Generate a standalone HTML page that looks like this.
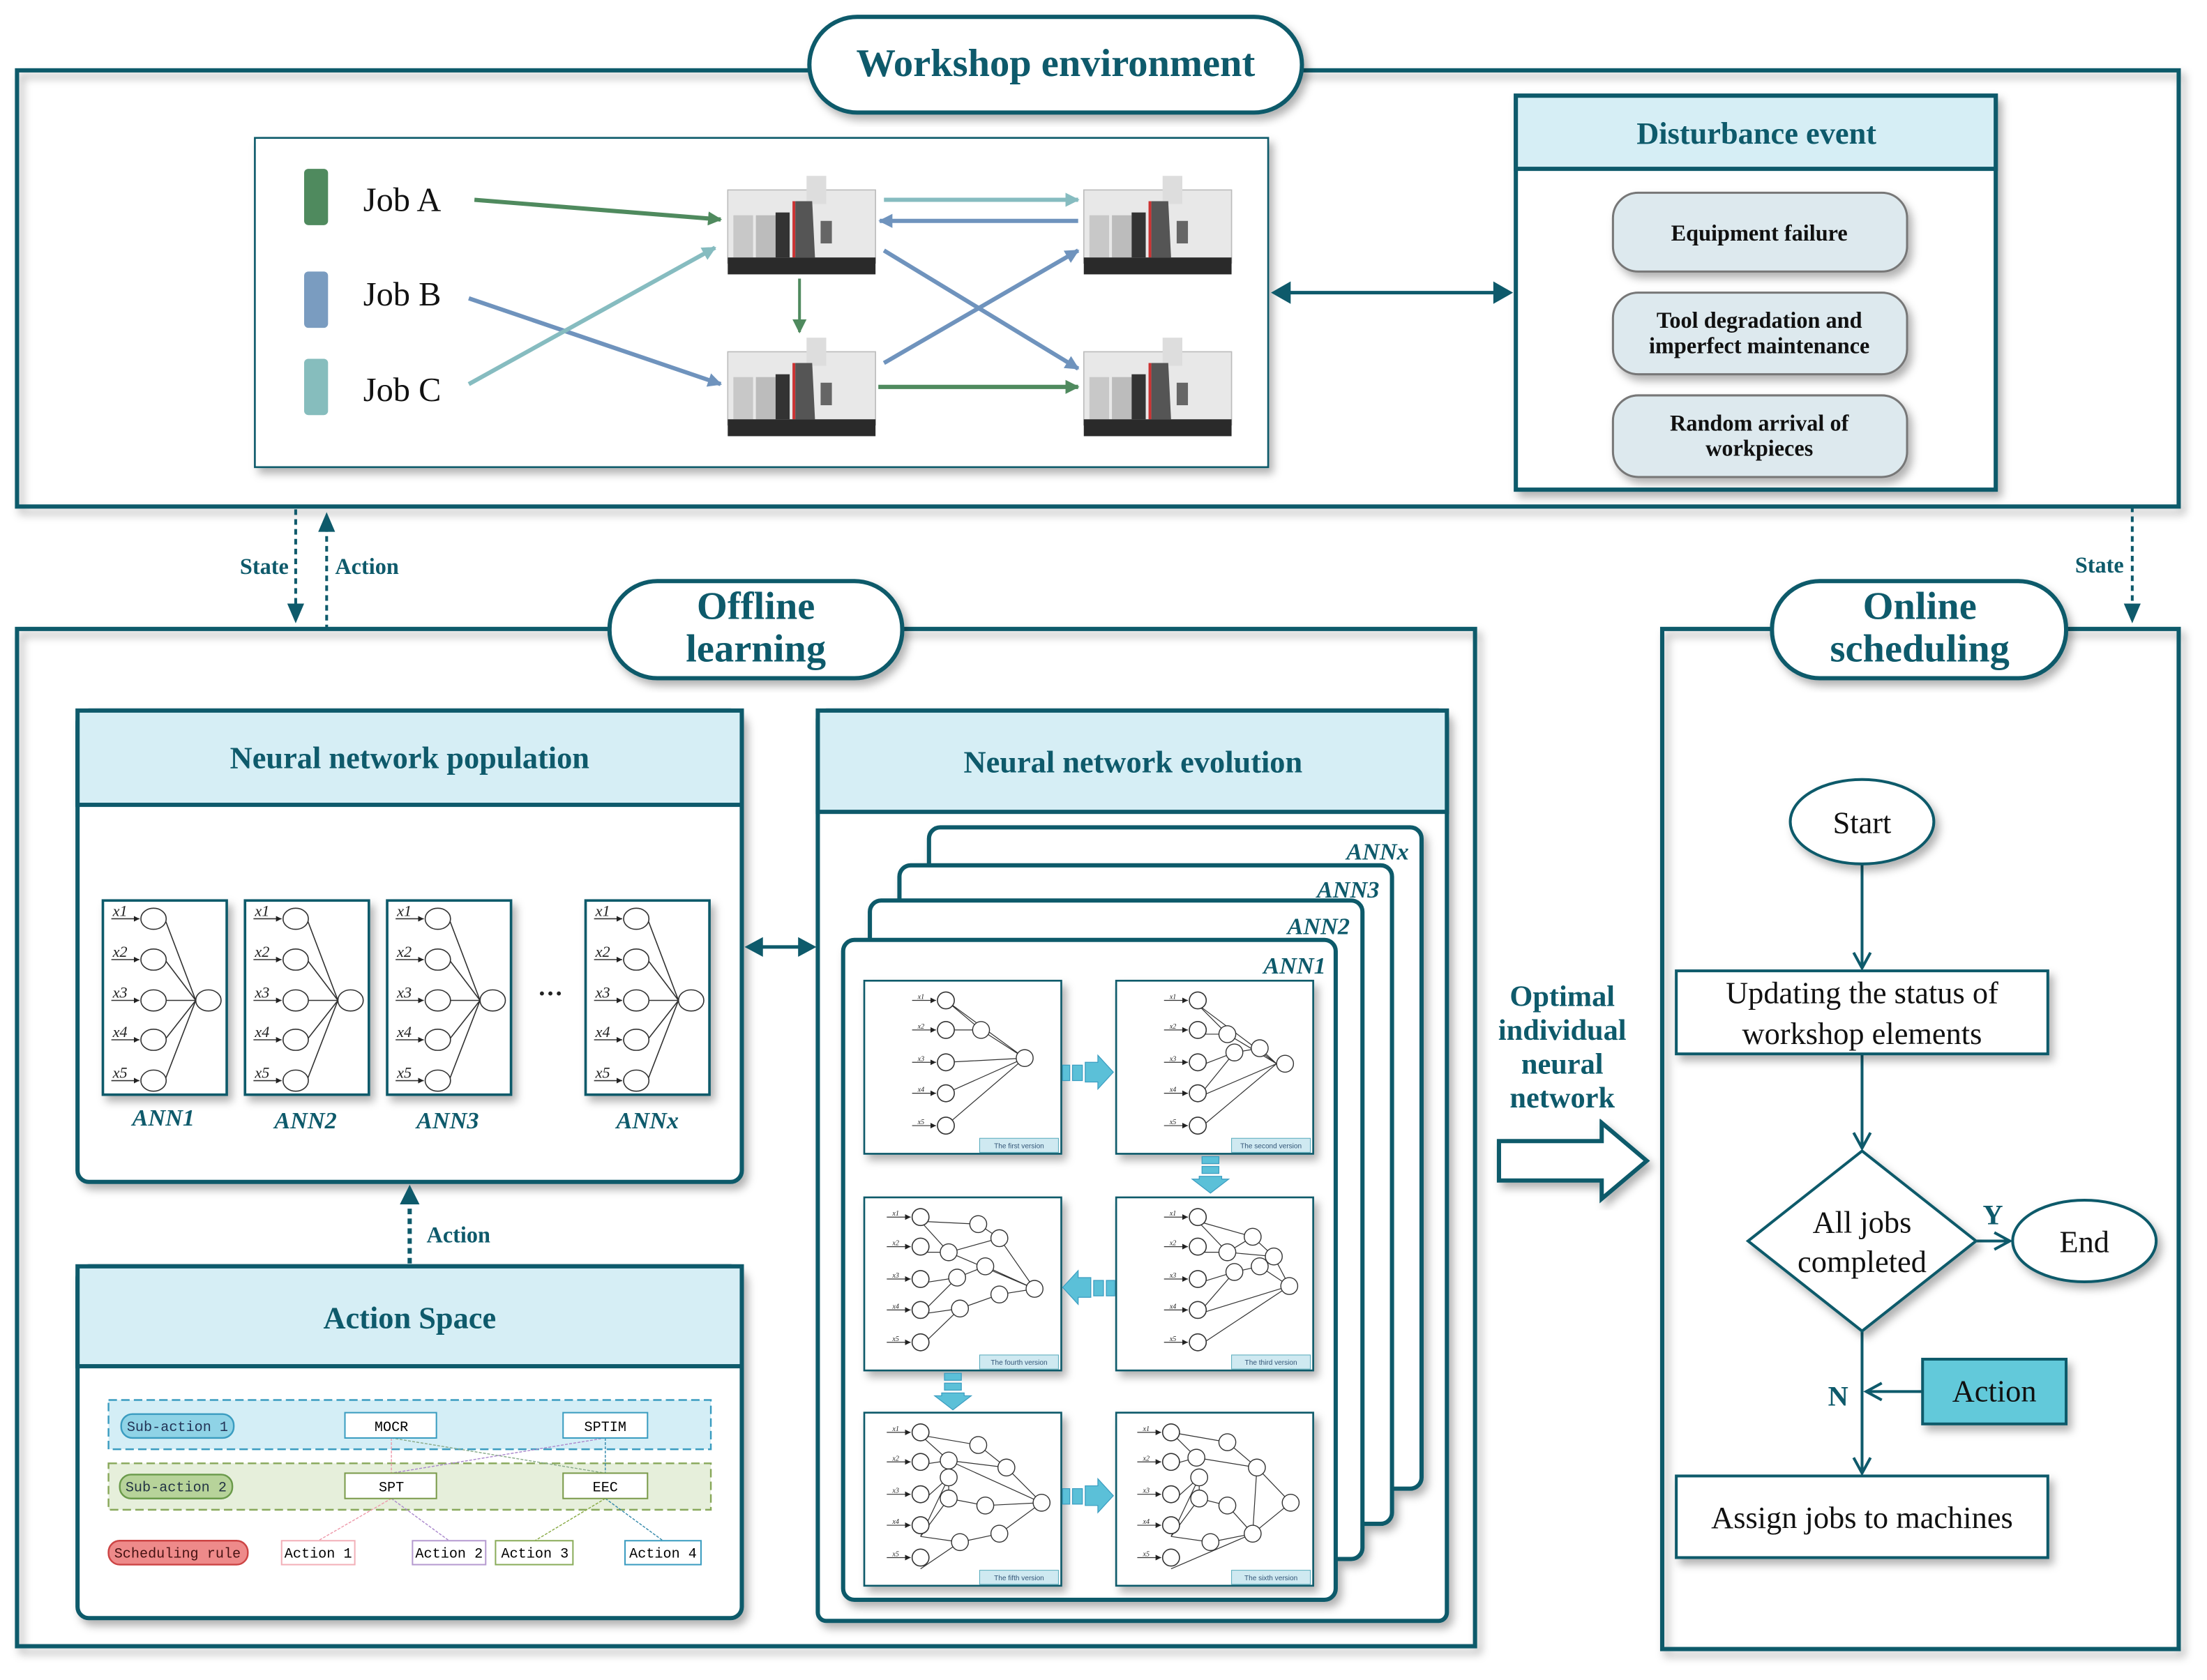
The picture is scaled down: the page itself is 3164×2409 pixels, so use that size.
<!DOCTYPE html>
<html><head><meta charset="utf-8"><style>
html,body{margin:0;padding:0;background:#fff;}
svg{display:block;font-family:"Liberation Serif","Times New Roman",Times,serif;}
text{font-family:"Liberation Serif","Times New Roman",Times,serif;}
text.mono{font-family:"Liberation Mono","Courier New",monospace;}
text.sans{font-family:"Liberation Sans",Arial,sans-serif;}
</style></head><body>
<svg width="3164" height="2409" viewBox="0 0 1568 1194" xmlns="http://www.w3.org/2000/svg">
<defs>
<filter id="sh" x="-5%" y="-5%" width="115%" height="120%"><feDropShadow dx="3" dy="4" stdDeviation="3" flood-color="#000" flood-opacity="0.3"/></filter>
<marker id="ahO" markerWidth="14" markerHeight="14" refX="12" refY="7" orient="auto" markerUnits="userSpaceOnUse"><path d="M1,1 L12,7 L1,13" fill="none" stroke="#0e5a6b" stroke-width="2"/></marker>
<marker id="aG" markerWidth="10" markerHeight="10" refX="9" refY="5" orient="auto" markerUnits="userSpaceOnUse"><path d="M0,0 L10,5 L0,10 z" fill="#4f8a5e"/></marker>
<marker id="aB" markerWidth="10" markerHeight="10" refX="9" refY="5" orient="auto" markerUnits="userSpaceOnUse"><path d="M0,0 L10,5 L0,10 z" fill="#6f93bd"/></marker>
<marker id="aT" markerWidth="10" markerHeight="10" refX="9" refY="5" orient="auto" markerUnits="userSpaceOnUse"><path d="M0,0 L10,5 L0,10 z" fill="#86bcc0"/></marker>
<marker id="sm" markerWidth="4" markerHeight="4" refX="4" refY="2" orient="auto" markerUnits="userSpaceOnUse"><path d="M0,0 L4,2 L0,4 z" fill="#222"/></marker>
<g id="mach">
 <rect x="0" y="10" width="105" height="52" fill="#e8e8e8" stroke="#bbb" stroke-width="0.8"/>
 <rect x="56" y="0" width="14" height="20" fill="#ddd"/>
 <rect x="4" y="28" width="14" height="30" fill="#c8c8c8"/>
 <rect x="20" y="28" width="14" height="30" fill="#bcbcbc"/>
 <rect x="34" y="26" width="10" height="32" fill="#333"/>
 <rect x="46" y="18" width="2" height="40" fill="#c33"/>
 <path d="M48,18 L60,18 L62,58 L48,58 z" fill="#555"/>
 <rect x="66" y="32" width="8" height="16" fill="#666"/>
 <rect x="0" y="58" width="105" height="12" fill="#2a2a2a"/>
</g>
<g id="ann" stroke="#333" stroke-width="0.8" fill="none">
 <rect x="0" y="0" width="88" height="138" fill="#fff" stroke="#0e5a6b" stroke-width="1.8"/>
 <g><line x1="6" y1="13" x2="26" y2="13" marker-end="url(#sm)"/><line x1="6" y1="42" x2="26" y2="42" marker-end="url(#sm)"/><line x1="6" y1="71" x2="26" y2="71" marker-end="url(#sm)"/><line x1="6" y1="99" x2="26" y2="99" marker-end="url(#sm)"/><line x1="6" y1="128" x2="26" y2="128" marker-end="url(#sm)"/></g>
 <line x1="44" y1="13" x2="66" y2="71"/><line x1="44" y1="42" x2="66" y2="71"/><line x1="45" y1="71" x2="66" y2="71"/><line x1="44" y1="99" x2="66" y2="71"/><line x1="44" y1="128" x2="66" y2="71"/>
 <g fill="#fff"><ellipse cx="36" cy="13" rx="9" ry="7.5"/><ellipse cx="36" cy="42" rx="9" ry="7.5"/><ellipse cx="36" cy="71" rx="9" ry="7.5"/><ellipse cx="36" cy="99" rx="9" ry="7.5"/><ellipse cx="36" cy="128" rx="9" ry="7.5"/><ellipse cx="75" cy="71" rx="9" ry="7.5"/></g>
</g>
<g id="pan">
 <rect x="0" y="0" width="140" height="123" fill="#fff" stroke="#0e5a6b" stroke-width="1.3" filter="url(#sh)"/>
 <rect x="82" y="112" width="56" height="10" fill="#cfe9f1" stroke="#5ab" stroke-width="0.5"/>
</g>
<g id="in5" fill="#fff" stroke="#333" stroke-width="0.8">
 <g stroke-width="0.6"><line x1="34" y1="14" x2="51" y2="14" marker-end="url(#sm)"/><line x1="34" y1="35" x2="51" y2="35" marker-end="url(#sm)"/><line x1="34" y1="58" x2="51" y2="58" marker-end="url(#sm)"/><line x1="34" y1="80" x2="51" y2="80" marker-end="url(#sm)"/><line x1="34" y1="103" x2="51" y2="103" marker-end="url(#sm)"/></g>
 <circle cx="58" cy="14" r="6"/><circle cx="58" cy="35" r="6"/><circle cx="58" cy="58" r="6"/><circle cx="58" cy="80" r="6"/><circle cx="58" cy="103" r="6"/></g>
</defs>

<rect x="12" y="50" width="1536" height="310" fill="none" stroke="#0e5a6b" stroke-width="3" filter="url(#sh)"/>
<rect x="575" y="12" width="350" height="68" rx="34" fill="#fff" stroke="#0e5a6b" stroke-width="3" filter="url(#sh)"/>
<text x="750" y="54" text-anchor="middle" font-size="28" font-weight="bold" fill="#0e5a6b">Workshop environment</text>

<rect x="181" y="98" width="720" height="234" fill="#fff" stroke="#0e5a6b" stroke-width="1.3" filter="url(#sh)"/>
<rect x="216" y="120" width="17" height="40" rx="3" fill="#4f8a5e"/>
<rect x="216" y="193" width="17" height="40" rx="3" fill="#7a9cc0"/>
<rect x="216" y="255" width="17" height="40" rx="3" fill="#86bdbd"/>
<text x="258" y="150" font-size="24" fill="#111">Job A</text>
<text x="258" y="217" font-size="24" fill="#111">Job B</text>
<text x="258" y="285" font-size="24" fill="#111">Job C</text>
<use href="#mach" x="517" y="125"/>
<use href="#mach" x="770" y="125"/>
<use href="#mach" x="517" y="240"/>
<use href="#mach" x="770" y="240"/>
<g stroke-width="3" fill="none">
<line x1="337" y1="142" x2="512" y2="156" stroke="#4f8a5e" marker-end="url(#aG)"/>
<line x1="333" y1="212" x2="512" y2="273" stroke="#6f93bd" marker-end="url(#aB)"/>
<line x1="333" y1="273" x2="508" y2="176" stroke="#86bcc0" marker-end="url(#aT)"/>
<line x1="628" y1="142" x2="766" y2="142" stroke="#86bcc0" marker-end="url(#aT)"/>
<line x1="766" y1="157" x2="625" y2="157" stroke="#6f93bd" marker-end="url(#aB)"/>
<line x1="568" y1="198" x2="568" y2="236" stroke="#4f8a5e" stroke-width="2" marker-end="url(#aG)"/>
<line x1="628" y1="178" x2="766" y2="262" stroke="#6f93bd" marker-end="url(#aB)"/>
<line x1="628" y1="258" x2="766" y2="178" stroke="#6f93bd" marker-end="url(#aB)"/>
<line x1="624" y1="275" x2="766" y2="275" stroke="#4f8a5e" marker-end="url(#aG)"/>
</g>
<line x1="915" y1="208" x2="1063" y2="208" stroke="#0e5a6b" stroke-width="2.5"/>
<path d="M903,208 L917,200 L917,216 z M1075,208 L1061,200 L1061,216 z" fill="#0e5a6b"/>

<rect x="1077" y="68" width="341" height="280" fill="#fff" stroke="#0e5a6b" stroke-width="3" filter="url(#sh)"/>
<rect x="1077" y="68" width="341" height="52" fill="#d6eef5" stroke="#0e5a6b" stroke-width="3"/>
<text x="1248" y="102" text-anchor="middle" font-size="22" font-weight="bold" fill="#0e5a6b">Disturbance event</text>
<g fill="#dde9ee" stroke="#777" stroke-width="1.5" filter="url(#sh)">
<rect x="1146" y="137" width="209" height="56" rx="18"/>
<rect x="1146" y="208" width="209" height="58" rx="18"/>
<rect x="1146" y="281" width="209" height="58" rx="18"/>
</g>
<g font-size="16" font-weight="bold" fill="#111" text-anchor="middle">
<text x="1250" y="171">Equipment failure</text>
<text x="1250" y="233">Tool degradation and</text>
<text x="1250" y="251">imperfect maintenance</text>
<text x="1250" y="306">Random arrival of</text>
<text x="1250" y="324">workpieces</text>
</g>

<g stroke="#0e5a6b" stroke-width="2" stroke-dasharray="4,3" fill="none">
<line x1="210" y1="362" x2="210" y2="438"/>
<line x1="232" y1="448" x2="232" y2="372"/>
<line x1="1515" y1="360" x2="1515" y2="438"/>
</g>
<path d="M210,443 L204,429 L216,429 z M232,364 L226,378 L238,378 z M1515,443 L1509,429 L1521,429 z" fill="#0e5a6b"/>
<g font-size="16" font-weight="bold" fill="#0e5a6b">
<text x="205" y="408" text-anchor="end">State</text>
<text x="238" y="408">Action</text>
<text x="1509" y="407" text-anchor="end">State</text>
</g>

<rect x="12" y="447" width="1036" height="723" fill="none" stroke="#0e5a6b" stroke-width="3" filter="url(#sh)"/>
<rect x="433" y="413" width="208" height="69" rx="34" fill="#fff" stroke="#0e5a6b" stroke-width="3" filter="url(#sh)"/>
<text x="537" y="440" text-anchor="middle" font-size="28" font-weight="bold" fill="#0e5a6b">Offline</text>
<text x="537" y="470" text-anchor="middle" font-size="28" font-weight="bold" fill="#0e5a6b">learning</text>

<rect x="1181" y="447" width="367" height="725" fill="none" stroke="#0e5a6b" stroke-width="3" filter="url(#sh)"/>
<rect x="1259" y="413" width="209" height="69" rx="34" fill="#fff" stroke="#0e5a6b" stroke-width="3" filter="url(#sh)"/>
<text x="1364" y="440" text-anchor="middle" font-size="28" font-weight="bold" fill="#0e5a6b">Online</text>
<text x="1364" y="470" text-anchor="middle" font-size="28" font-weight="bold" fill="#0e5a6b">scheduling</text>

<rect x="55" y="505" width="472" height="335" rx="8" fill="#fff" stroke="#0e5a6b" stroke-width="3" filter="url(#sh)"/>
<rect x="55" y="505" width="472" height="67" fill="#d6eef5" stroke="#0e5a6b" stroke-width="3"/>
<text x="291" y="546" text-anchor="middle" font-size="22" font-weight="bold" fill="#0e5a6b">Neural network population</text>
<g filter="url(#sh)"><use href="#ann" x="73" y="640"/><use href="#ann" x="174" y="640"/><use href="#ann" x="275" y="640"/><use href="#ann" x="416" y="640"/></g>
<g font-size="11" font-style="italic" fill="#222">
<text x="80" y="651">x1</text><text x="80" y="680">x2</text><text x="80" y="709">x3</text><text x="80" y="737">x4</text><text x="80" y="766">x5</text>
<text x="181" y="651">x1</text><text x="181" y="680">x2</text><text x="181" y="709">x3</text><text x="181" y="737">x4</text><text x="181" y="766">x5</text>
<text x="282" y="651">x1</text><text x="282" y="680">x2</text><text x="282" y="709">x3</text><text x="282" y="737">x4</text><text x="282" y="766">x5</text>
<text x="423" y="651">x1</text><text x="423" y="680">x2</text><text x="423" y="709">x3</text><text x="423" y="737">x4</text><text x="423" y="766">x5</text>
</g>
<text x="391" y="712" text-anchor="middle" font-size="18" font-weight="bold" fill="#222">···</text>
<g font-size="17" font-weight="bold" font-style="italic" fill="#0e5a6b" text-anchor="middle">
<text x="116" y="800">ANN1</text><text x="217" y="802">ANN2</text><text x="318" y="802">ANN3</text><text x="460" y="802">ANNx</text>
</g>
<line x1="540" y1="673" x2="568" y2="673" stroke="#0e5a6b" stroke-width="2.5"/>
<path d="M529,673 L542,666 L542,680 z M580,673 L567,666 L567,680 z" fill="#0e5a6b"/>

<line x1="291" y1="898" x2="291" y2="855" stroke="#0e5a6b" stroke-width="3" stroke-dasharray="4,3"/>
<path d="M291,842 L284,856 L298,856 z" fill="#0e5a6b"/>
<text x="303" y="883" font-size="16" font-weight="bold" fill="#0e5a6b">Action</text>

<rect x="55" y="900" width="472" height="250" rx="8" fill="#fff" stroke="#0e5a6b" stroke-width="3" filter="url(#sh)"/>
<rect x="55" y="900" width="472" height="71" fill="#d6eef5" stroke="#0e5a6b" stroke-width="3"/>
<text x="291" y="944" text-anchor="middle" font-size="22" font-weight="bold" fill="#0e5a6b">Action Space</text>
<rect x="77" y="995" width="428" height="35" fill="#d4eef6" stroke="#3a9cc0" stroke-width="1.2" stroke-dasharray="6,3"/>
<rect x="77" y="1040" width="428" height="33" fill="#e6efdb" stroke="#88a85a" stroke-width="1.2" stroke-dasharray="6,3"/>
<g stroke-width="0.7" stroke-dasharray="2,1" fill="none">
<line x1="278" y1="1022" x2="278" y2="1047" stroke="#e9a"/>
<line x1="278" y1="1022" x2="430" y2="1047" stroke="#8a8"/>
<line x1="430" y1="1022" x2="278" y2="1047" stroke="#a8c"/>
<line x1="430" y1="1022" x2="430" y2="1047" stroke="#38a"/>
<line x1="278" y1="1065" x2="226" y2="1095" stroke="#e9a"/>
<line x1="278" y1="1065" x2="319" y2="1095" stroke="#a8c"/>
<line x1="430" y1="1065" x2="380" y2="1095" stroke="#8a4"/>
<line x1="430" y1="1065" x2="471" y2="1095" stroke="#38a"/>
</g>
<g font-size="10" text-anchor="middle">
<rect x="86" y="1005" width="80" height="17" rx="8" fill="#8fd3e6" stroke="#3a9cc0" stroke-width="1.2"/><text class="mono" x="126" y="1017" fill="#235">Sub-action 1</text>
<rect x="85" y="1048" width="80" height="17" rx="8" fill="#b7d39a" stroke="#6a9a4a" stroke-width="1.2"/><text class="mono" x="125" y="1060" fill="#234">Sub-action 2</text>
<rect x="77" y="1095" width="99" height="17" rx="8" fill="#ee8a8a" stroke="#c44" stroke-width="1.2"/><text class="mono" x="126" y="1107" fill="#411">Scheduling rule</text>
<rect x="245" y="1004" width="65" height="18" fill="#fff" stroke="#3a9cc0"/><text class="mono" x="278" y="1017">MOCR</text>
<rect x="400" y="1004" width="60" height="18" fill="#fff" stroke="#3a9cc0"/><text class="mono" x="430" y="1017">SPTIM</text>
<rect x="245" y="1047" width="65" height="18" fill="#fff" stroke="#7a9a4a"/><text class="mono" x="278" y="1060">SPT</text>
<rect x="400" y="1047" width="60" height="18" fill="#fff" stroke="#7a9a4a"/><text class="mono" x="430" y="1060">EEC</text>
<rect x="200" y="1095" width="52" height="17" fill="#fff" stroke="#f2b0b8"/><text class="mono" x="226" y="1107">Action 1</text>
<rect x="293" y="1095" width="52" height="17" fill="#fff" stroke="#b59ad0"/><text class="mono" x="319" y="1107">Action 2</text>
<rect x="352" y="1095" width="55" height="17" fill="#fff" stroke="#8aac5a"/><text class="mono" x="380" y="1107">Action 3</text>
<rect x="444" y="1095" width="54" height="17" fill="#fff" stroke="#3a9cc0"/><text class="mono" x="471" y="1107">Action 4</text>
</g>

<rect x="581" y="505" width="447" height="647" rx="6" fill="#fff" stroke="#0e5a6b" stroke-width="3" filter="url(#sh)"/>
<rect x="581" y="505" width="447" height="72" fill="#d6eef5" stroke="#0e5a6b" stroke-width="3"/>
<text x="805" y="549" text-anchor="middle" font-size="22" font-weight="bold" fill="#0e5a6b">Neural network evolution</text>
<g fill="#fff" stroke="#0e5a6b" stroke-width="3" filter="url(#sh)">
<rect x="660" y="588" width="350" height="470" rx="8"/>
<rect x="639" y="615" width="350" height="468" rx="8"/>
<rect x="618" y="640" width="350" height="468" rx="8"/>
<rect x="599" y="668" width="350" height="469" rx="8"/>
</g>
<g font-size="17" font-weight="bold" font-style="italic" fill="#0e5a6b" text-anchor="end">
<text x="1001" y="611">ANNx</text><text x="980" y="638">ANN3</text><text x="959" y="664">ANN2</text><text x="942" y="692">ANN1</text>
</g>
<g>
<use href="#pan" x="614" y="697"/><use href="#pan" x="793" y="697"/>
<use href="#pan" x="614" y="851"/><use href="#pan" x="793" y="851"/>
<use href="#pan" x="614" y="1004"/><use href="#pan" x="793" y="1004"/>
</g>
<g stroke="#333" stroke-width="0.6" fill="none">
 <path d="M672,711 L728,752 M672,711 L697,732 M672,732 L697,732 M697,732 L728,752 M672,755 L728,752 M672,777 L728,752 M672,800 L728,752"/>
 <path d="M851,714 L907,756 M851,714 L872,735 M851,735 L872,735 M872,735 L907,756 M851,758 L877,748 M877,748 L895,745 M895,745 L907,756 M851,780 L877,748 M851,780 L907,756 M851,803 L907,756"/>
 <path d="M851,868 L890,879 M890,879 L905,893 M851,868 L872,890 M851,890 L872,890 M872,890 L905,893 M872,890 L890,879 M905,893 L916,914 M851,912 L877,904 M877,904 L895,900 M895,900 L916,914 M851,934 L877,904 M851,934 L916,914 M851,957 L916,914"/>
 <path d="M654,868 L695,870 M654,868 L674,890 M654,890 L674,890 M674,890 L710,880 M695,870 L710,880 M710,880 L735,916 M654,912 L680,908 M680,908 L700,900 M700,900 L735,916 M654,934 L680,908 M654,934 L682,930 M682,930 L710,920 M710,920 L735,916 M654,957 L682,930 M674,890 L735,916"/>
 <path d="M654,1020 L695,1027 M654,1020 L674,1038 M654,1041 L674,1038 M674,1038 L715,1043 M695,1027 L715,1043 M715,1043 L740,1068 M654,1068 L674,1050 M674,1050 L674,1065 M654,1092 L674,1050 M654,1092 L674,1065 M674,1065 L700,1070 M700,1070 L740,1068 M654,1092 L682,1096 M682,1096 L710,1090 M710,1090 L740,1068 M654,1115 L682,1096 M674,1038 L740,1068"/>
 <path d="M832,1018 L872,1025 M832,1018 L850,1036 M832,1041 L850,1036 M850,1036 L893,1043 M872,1025 L893,1043 M893,1043 L917,1068 M893,1043 L890,1090 M832,1068 L852,1050 M852,1050 L852,1065 M832,1092 L852,1050 M832,1092 L852,1065 M852,1065 L872,1070 M872,1070 L890,1090 M832,1092 L860,1096 M860,1096 L890,1090 M890,1090 L917,1068 M832,1115 L890,1090"/>
</g>
<g fill="#fff" stroke="#333" stroke-width="0.7">
 <use href="#in5" x="614" y="697"/><use href="#in5" x="793" y="697"/>
 <use href="#in5" x="596" y="851"/><use href="#in5" x="793" y="851"/>
 <use href="#in5" x="596" y="1004"/><use href="#in5" x="774" y="1004"/>
 <circle cx="697" cy="732" r="6"/><circle cx="728" cy="752" r="6"/>
 <circle cx="872" cy="735" r="6"/><circle cx="877" cy="748" r="6"/><circle cx="895" cy="745" r="6"/><circle cx="913" cy="756" r="6"/>
 <circle cx="890" cy="879" r="6"/><circle cx="872" cy="890" r="6"/><circle cx="905" cy="893" r="6"/><circle cx="877" cy="904" r="6"/><circle cx="895" cy="900" r="6"/><circle cx="916" cy="914" r="6"/>
 <circle cx="695" cy="870" r="6"/><circle cx="674" cy="890" r="6"/><circle cx="710" cy="880" r="6"/><circle cx="680" cy="908" r="6"/><circle cx="700" cy="900" r="6"/><circle cx="682" cy="930" r="6"/><circle cx="710" cy="920" r="6"/><circle cx="735" cy="916" r="6"/>
 <circle cx="695" cy="1027" r="6"/><circle cx="674" cy="1038" r="6"/><circle cx="715" cy="1043" r="6"/><circle cx="674" cy="1050" r="6"/><circle cx="674" cy="1065" r="6"/><circle cx="700" cy="1070" r="6"/><circle cx="682" cy="1096" r="6"/><circle cx="710" cy="1090" r="6"/><circle cx="740" cy="1068" r="6"/>
 <circle cx="872" cy="1025" r="6"/><circle cx="850" cy="1036" r="6"/><circle cx="893" cy="1043" r="6"/><circle cx="852" cy="1050" r="6"/><circle cx="852" cy="1065" r="6"/><circle cx="872" cy="1070" r="6"/><circle cx="860" cy="1096" r="6"/><circle cx="890" cy="1090" r="6"/><circle cx="917" cy="1068" r="6"/>
</g>
<g font-size="5" fill="#357" text-anchor="middle">
<text class="sans" x="724" y="816">The first version</text><text class="sans" x="903" y="816">The second version</text>
<text class="sans" x="724" y="970">The fourth version</text><text class="sans" x="903" y="970">The third version</text>
<text class="sans" x="724" y="1123">The fifth version</text><text class="sans" x="903" y="1123">The sixth version</text>
</g>
<g fill="#5bc0d8" stroke="#3a9cc0" stroke-width="0.6">
<rect x="755" y="757" width="5" height="11"/><rect x="762" y="757" width="7" height="11"/><path d="M771,755 L780,755 L780,750 L791,762 L780,774 L780,769 L771,769 z"/>
<rect x="854" y="822" width="12" height="5"/><rect x="854" y="829" width="12" height="5"/><path d="M852,836 L868,836 L868,838 L873,838 L860,848 L847,838 L852,838 z"/>
<rect x="786" y="910" width="6" height="11"/><rect x="777" y="910" width="7" height="11"/><path d="M775,908 L766,908 L766,903 L755,915 L766,927 L766,922 L775,922 z"/>
<rect x="671" y="976" width="12" height="5"/><rect x="671" y="983" width="12" height="5"/><path d="M669,990 L685,990 L685,992 L690,992 L677,1002 L664,992 L669,992 z"/>
<rect x="755" y="1058" width="5" height="11"/><rect x="762" y="1058" width="7" height="11"/><path d="M771,1056 L780,1056 L780,1051 L791,1063 L780,1075 L780,1070 L771,1070 z"/>
</g>
<g font-size="5" font-style="italic" fill="#222">
<text x="652" y="710">x1</text><text x="652" y="731">x2</text><text x="652" y="754">x3</text><text x="652" y="776">x4</text><text x="652" y="799">x5</text>
<text x="831" y="710">x1</text><text x="831" y="731">x2</text><text x="831" y="754">x3</text><text x="831" y="776">x4</text><text x="831" y="799">x5</text>
<text x="634" y="864">x1</text><text x="634" y="885">x2</text><text x="634" y="908">x3</text><text x="634" y="930">x4</text><text x="634" y="953">x5</text>
<text x="831" y="864">x1</text><text x="831" y="885">x2</text><text x="831" y="908">x3</text><text x="831" y="930">x4</text><text x="831" y="953">x5</text>
<text x="634" y="1017">x1</text><text x="634" y="1038">x2</text><text x="634" y="1061">x3</text><text x="634" y="1083">x4</text><text x="634" y="1106">x5</text>
<text x="812" y="1017">x1</text><text x="812" y="1038">x2</text><text x="812" y="1061">x3</text><text x="812" y="1083">x4</text><text x="812" y="1106">x5</text>
</g>

<g font-size="21" font-weight="bold" fill="#0e5a6b" text-anchor="middle">
<text x="1110" y="715">Optimal</text><text x="1110" y="739">individual</text><text x="1110" y="763">neural</text><text x="1110" y="787">network</text>
</g>
<path d="M1065,811 L1138,811 L1138,798 L1170,825 L1138,852 L1138,839 L1065,839 z" fill="#fff" stroke="#0e5a6b" stroke-width="3" filter="url(#sh)"/>

<g stroke="#0e5a6b" stroke-width="2" fill="none">
<line x1="1323" y1="614" x2="1323" y2="688" marker-end="url(#ahO)"/>
<line x1="1323" y1="749" x2="1323" y2="816" marker-end="url(#ahO)"/>
<line x1="1404" y1="882" x2="1428" y2="882" marker-end="url(#ahO)"/>
<line x1="1323" y1="946" x2="1323" y2="1047" marker-end="url(#ahO)"/>
<line x1="1366" y1="989" x2="1326" y2="989" marker-end="url(#ahO)"/>
</g>
<g fill="#fff" stroke="#0e5a6b" stroke-width="2" filter="url(#sh)">
<ellipse cx="1323" cy="584" rx="51" ry="30"/>
<rect x="1191" y="690" width="264" height="59"/>
<path d="M1323,818 L1404,882 L1323,946 L1242,882 z"/>
<ellipse cx="1481" cy="882" rx="51" ry="29"/>
<rect x="1366" y="966" width="102" height="46" fill="#62c9da"/>
<rect x="1191" y="1049" width="264" height="58"/>
</g>
<g font-size="22" fill="#111" text-anchor="middle">
<text x="1323" y="592">Start</text>
<text x="1323" y="713">Updating the status of</text>
<text x="1323" y="742">workshop elements</text>
<text x="1323" y="876">All jobs</text>
<text x="1323" y="904">completed</text>
<text x="1481" y="890">End</text>
<text x="1417" y="996">Action</text>
<text x="1323" y="1086">Assign jobs to machines</text>
</g>
<text x="1416" y="870" text-anchor="middle" font-size="20" font-weight="bold" fill="#0e5a6b">Y</text>
<text x="1306" y="999" text-anchor="middle" font-size="20" font-weight="bold" fill="#0e5a6b">N</text>
</svg>
</body></html>
